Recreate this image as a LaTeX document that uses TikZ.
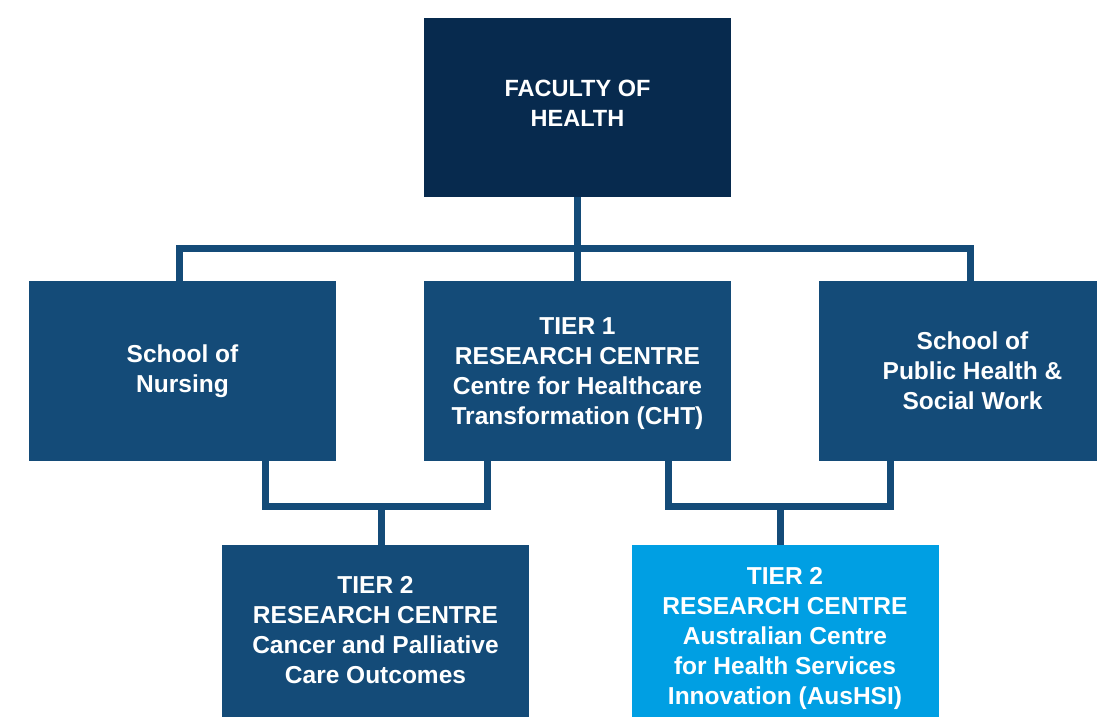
\documentclass[tikz,border=0pt]{standalone}
\usepackage{fontspec}
\setmainfont{Liberation Sans}
\definecolor{navy}{HTML}{072A4E}
\definecolor{steel}{HTML}{144B78}
\definecolor{sky}{HTML}{009FE3}
\begin{document}
\begin{tikzpicture}[x=1pt,y=-1pt,
  box/.style={fill=steel, minimum width=307pt, minimum height=180pt, inner sep=0pt},
  txt/.style={text=white, font=\bfseries\fontsize{24.5}{30}\selectfont, align=center, inner sep=0pt},
  conn/.style={draw=steel, line width=7pt}]
\useasboundingbox (0,0) rectangle (1097,716);
\clip (0,0) rectangle (1097,716);
\fill[white] (0,0) rectangle (1097,716);
\node[box, fill=navy, minimum height=179pt] (top) at (577.5,107.5) {};
\node[box] (nursing) at (182.5,371) {};
\node[box] (tier1) at (577.5,371) {};
\node[box] (public) at (972.5,371) {};
\node[box] (cancer) at (375.5,635) {};
\node[box, fill=sky] (aushsi) at (785,635) {};
\node[txt, font=\bfseries\fontsize{23.5}{30}\selectfont] (topt) at (577.5,103.5) {FACULTY OF\\HEALTH};
\node[txt] (nursingt) at (182.5,371) {School of\\Nursing};
\node[txt] (tier1t) at (577.5,374) {TIER 1\\RESEARCH CENTRE\\Centre for Healthcare\\Transformation (CHT)};
\node[txt] (publict) at (972.5,371) {School of\\Public Health \&\\Social Work};
\node[txt] (cancert) at (375.5,630) {TIER 2\\RESEARCH CENTRE\\Cancer and Palliative\\Care Outcomes};
\node[txt] (aushsit) at (785,638) {TIER 2\\RESEARCH CENTRE\\Australian Centre\\for Health Services\\Innovation (AusHSI)};
\coordinate (bl) at (179,248);
\coordinate (br) at (970,248);
\coordinate (bm) at (577.5,248);
\coordinate (l1) at (265,506);
\coordinate (l2) at (487,506);
\coordinate (l3) at (381,506);
\coordinate (r1) at (668,506);
\coordinate (r2) at (890,506);
\coordinate (r3) at (780,506);
\draw[conn] (nursing.north -| bl) -- (bl) -- (br) -- (public.north -| br);
\draw[conn] (top.south) -- (bm) -- (tier1.north);
\draw[conn] (nursing.south -| l1) -- (l1) -- (l2) -- (tier1.south -| l2);
\draw[conn] (l3) -- (cancer.north -| l3);
\draw[conn] (tier1.south -| r1) -- (r1) -- (r2) -- (public.south -| r2);
\draw[conn] (r3) -- (aushsi.north -| r3);
\end{tikzpicture}
\end{document}
